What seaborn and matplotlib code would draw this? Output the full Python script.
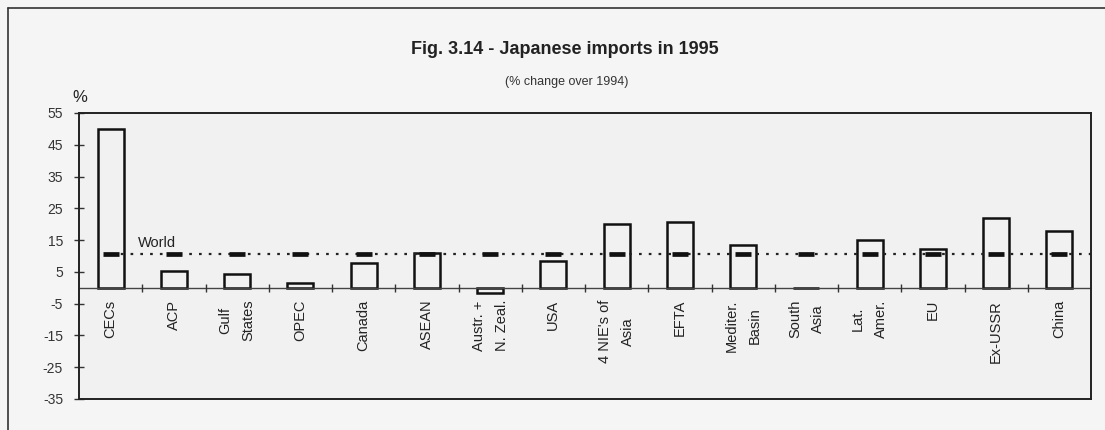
import numpy as np
import pandas as pd
import matplotlib
matplotlib.use("Agg")
import matplotlib.pyplot as plt
from matplotlib.lines import Line2D
import seaborn as sns

categories = ["CECs", "ACP", "Gulf\nStates", "OPEC", "Canada", "ASEAN",
              "Austr. +\nN. Zeal.", "USA", "4 NIE's of\nAsia", "EFTA",
              "Mediter.\nBasin", "South\nAsia", "Lat.\nAmer.", "EU",
              "Ex-USSR", "China"]
change_1995 = [50.0, 5.4, 4.2, 1.6, 7.9, 11.0, -1.5, 8.5, 20.0, 20.8,
               13.5, 0.0, 15.0, 12.1, 21.9, 17.9]
world_change = 10.6
y_ticks = [55, 45, 35, 25, 15, 5, -5, -15, -25, -35]

title = "Fig. 3.14 - Japanese imports in 1995"
subtitle = "(% change over 1994)"

sns.set_theme(style="white")
plt.rcParams["font.family"] = ["Liberation Sans", "DejaVu Sans"]

df = pd.DataFrame({"region": categories, "value": change_1995})

fig = plt.figure(figsize=(11.05, 4.30), dpi=100, facecolor="#f5f5f5")
ax = fig.add_axes([79 / 1105, 1 - 399 / 430, (1091 - 79) / 1105, (399 - 113) / 430])
ax.set_facecolor("#f1f1f1")

sns.barplot(data=df, x="region", y="value", order=categories, ax=ax,
            fill=False, color="black", width=0.41, linewidth=1.8,
            errorbar=None)
for p in ax.patches:
    p.set_edgecolor("#111111")
    p.set_linewidth(1.8)

n = len(categories)
pos = np.arange(n)

# world reference line and dashes
ax.plot([0, n - 0.5], [world_change, world_change], ls=(0, (1.2, 3.2)),
        color="#222222", lw=1.6, zorder=1)
ax.plot(pos, [world_change] * n, ls="none", marker="_", ms=11, mew=3.4,
        color="#111111", zorder=3)
ax.text(0.43, 14.0, "World", ha="left", va="center", fontsize=10.5,
        color="#222222")

# zero line and separator ticks
ax.axhline(0, color="#444444", lw=1.0, zorder=1)
ax.plot(pos[:-1] + 0.5, [0] * (n - 1), ls="none", marker="|", ms=6, mew=1,
        color="#333333", zorder=2)

# category labels below the zero line
for i, lab in enumerate(categories):
    ax.text(i, -3.8, lab, rotation=90, ha="center", va="top",
            multialignment="center", linespacing=1.8, fontsize=10.5,
            color="#222222")

ax.set_xlim(-0.5, n - 0.5)
ax.set_ylim(-35, 55)
ax.set_yticks(y_ticks)
ax.set_yticklabels([str(v) for v in y_ticks])
ax.set_xticks([])
ax.set_xlabel("")
ax.set_ylabel("")
ax.tick_params(axis="y", direction="inout", length=7, width=1,
               color="#333333", labelsize=10, labelcolor="#333333", pad=8,
               left=True)
for s in ax.spines.values():
    s.set_visible(True)
    s.set_color("#222222")
    s.set_linewidth(1.4)

fig.text(0.511, 1 - 50 / 430, title, ha="center", va="center",
         fontsize=13, fontweight="bold", color="#222222")
fig.text(0.513, 1 - 82 / 430, subtitle, ha="center", va="center",
         fontsize=9, color="#333333")
fig.text(80 / 1105, 1 - 97 / 430, "%", ha="center", va="center",
         fontsize=12, color="#222222")

# outer frame lines
fig.add_artist(Line2D([8 / 1105, 1.0], [1 - 8 / 430, 1 - 8 / 430],
                      transform=fig.transFigure, color="#333333", lw=1.2))
fig.add_artist(Line2D([8 / 1105, 8 / 1105], [0.0, 1 - 8 / 430],
                      transform=fig.transFigure, color="#333333", lw=1.2))

fig.savefig("out.png", dpi=100, facecolor=fig.get_facecolor())
